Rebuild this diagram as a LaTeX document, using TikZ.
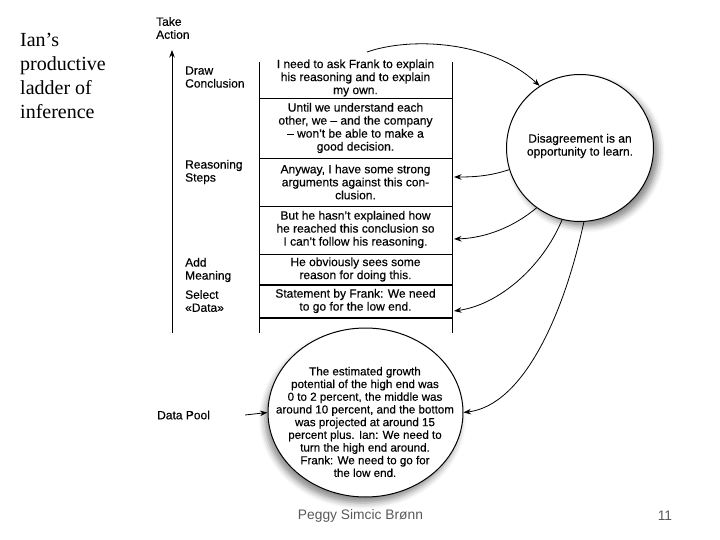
\documentclass[tikz,border=0pt]{standalone}
\usepackage{fontspec}
\setmainfont{Liberation Sans}
\newfontfamily\titleserif{Liberation Serif}
\newfontfamily\diagfont[FakeBold=0.35]{Liberation Sans}
\usetikzlibrary{arrows.meta,shapes.geometric,shadows.blur}
\begin{document}
\begin{tikzpicture}[x=1pt,y=-1pt,
  rowtext/.style={align=center, font=\diagfont\fontsize{12}{13}\selectfont, inner sep=0pt},
  lbl/.style={anchor=west, align=left, font=\diagfont\fontsize{12}{13}\selectfont, inner sep=0pt},
  rule/.style={line width=0.8pt},
  thickrule/.style={line width=1.3pt},
  arr/.style={-{Stealth[length=7.5pt,width=5.5pt]}, line width=0.8pt},
  bubble/.style={draw, line width=1pt, fill=white}
]
\useasboundingbox (0,0) rectangle (720,540);

% title
\node[anchor=north west, align=left, inner sep=0pt, font=\titleserif\fontsize{20}{24}\selectfont] (title) at (20,33) {Ian’s\\productive\\ladder of\\inference};

% vertical arrow and labels
\coordinate (vb) at (172,333);
\coordinate (vt) at (172,50);
\draw[arr] (vb) -- (vt);
\node[lbl] (take) at (156,28) {Take\\Action};
\node[lbl] (draw) at (185,77) {Draw\\Conclusion};
\node[lbl] (reas) at (185,172) {Reasoning\\Steps};
\node[lbl] (addm) at (185,270) {Add\\Meaning};
\node[lbl] (sel)  at (185,301) {Select\\«Data»};

% ladder table
\draw[rule] (259,62) -- (259,333);
\draw[rule] (452,62) -- (452,333);
\draw[rule] (259,98.5) -- (452,98.5);
\draw[rule] (259,158) -- (452,158);
\draw[rule] (259,206) -- (452,206);
\draw[rule] (259,254) -- (452,254);
\draw[thickrule] (259,285) -- (452,285);
\draw[thickrule] (259,318) -- (452,318);

\node[rowtext] (r1) at (355.5,78) {I need to ask Frank to explain\\his reasoning and to explain\\my own.};
\node[rowtext] (r2) at (355.5,128) {Until we understand each\\other, we – and the company\\– won’t be able to make a\\good decision.};
\node[rowtext] (r3) at (355.5,182) {Anyway, I have some strong\\arguments against this con-\\clusion.};
\node[rowtext] (r4) at (355.5,229.5) {But he hasn’t explained how\\he reached this conclusion so\\I can’t follow his reasoning.};
\node[rowtext] (r5) at (355.5,269.5) {He obviously sees some\\reason for doing this.};
\node[rowtext] (r6) at (355.5,301) {Statement by Frank: We need\\to go for the low end.};

% disagreement circle
\node[bubble, circle, minimum size=147pt, inner sep=0pt,
  blur shadow={shadow xshift=5pt, shadow yshift=-5pt, shadow blur radius=6pt, shadow opacity=45}]
  (dis) at (580,148) {};
\node[rowtext] (distext) at (580,146) {Disagreement is an\\opportunity to learn.};

% data pool ellipse
\node[bubble, ellipse, minimum width=195pt, minimum height=169pt, inner sep=0pt,
  blur shadow={shadow xshift=-3pt, shadow yshift=-6pt, shadow blur radius=6pt, shadow opacity=45}]
  (dp) at (365.5,412.5) {};
\node[rowtext, font=\diagfont\fontsize{11.6}{12.7}\selectfont] (dptext) at (365,422) {The estimated growth\\potential of the high end was\\0 to 2 percent, the middle was\\around 10 percent, and the bottom\\was projected at around 15\\percent plus. Ian: We need to\\turn the high end around.\\Frank: We need to go for\\the low end.};

\node[lbl] (pool) at (157,415) {Data Pool};
\draw[arr] (pool.east) ++(35,0) coordinate (pst) -- (dp.west);

% connectors
\coordinate (top) at (367,52);
\coordinate (t3) at (454,177);
\coordinate (t4) at (454,239);
\coordinate (t6) at (454,311);
\draw[arr] (top) .. controls (410,37) and (490,40) .. (dis.123);
\draw[arr] (dis.197) .. controls (490,176) and (475,177) .. (t3);
\draw[arr] (dis.234) .. controls (515,226) and (487,238) .. (t4);
\draw[arr] (dis.256) .. controls (542,268) and (498,305) .. (t6);
\draw[arr] (dis.273) .. controls (565,310) and (525,405) .. (dp.east);

% footer
\node[font=\fontsize{13.8}{16}\selectfont, text=black!65] (author) at (360.5,516) {Peggy Simcic Brønn};
\node[font=\fontsize{13.8}{16}\selectfont, text=black!65] (page) at (665,516) {11};
\end{tikzpicture}
\end{document}
